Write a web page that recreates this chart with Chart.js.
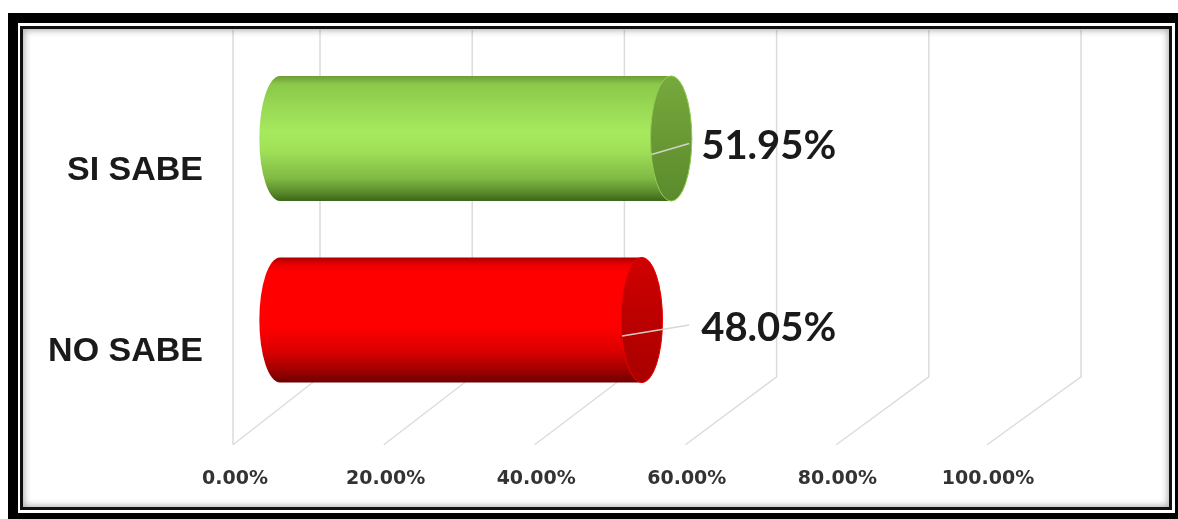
<!DOCTYPE html>
<html lang="es">
<head>
<meta charset="utf-8">
<title>SI SABE / NO SABE</title>
<script src="https://cdn.jsdelivr.net/npm/chart.js@4.4.1/dist/chart.umd.min.js"></script>
<style>
  html, body { margin: 0; padding: 0; background: #fff; overflow: hidden; }
  #wrap { position: absolute; left: 0; top: 0; width: 1178px; height: 519px; }
  .frame-outer { position: absolute; left: 8px; top: 13px; width: 1177px; height: 510px; border: 10px solid #000; box-sizing: border-box; }
  .frame-inner { position: absolute; left: 20px; top: 26px; width: 1152px; height: 484px; border: 3px solid #111; box-sizing: border-box; box-shadow: inset 0 0 7px 1px rgba(0,0,0,0.35); }
</style>
</head>
<body>
<div id="wrap"><canvas id="chart"></canvas></div>
<div class="frame-outer"></div>
<div class="frame-inner"></div>
<script>
const categories = ['SI SABE', 'NO SABE'];
const percentages = [51.95, 48.05];
const axisTicks = [0, 20, 40, 60, 80, 100];

// cylinder shading, top to bottom
const shades = [
    {
        body: [[0, '#6c9c36'], [0.07, '#8bc94a'], [0.45, '#a7e95e'], [0.6, '#9fe058'], [0.82, '#80b944'], [0.93, '#5a8a2c'], [1, '#3c6619']],
        face: ['#77a93d', '#5b8a2c'],
        rim: '#93cc55'
    },
    {
        body: [[0, '#a80000'], [0.06, '#ec0000'], [0.12, '#ff0000'], [0.55, '#ff0000'], [0.75, '#dc0000'], [0.9, '#a00000'], [1, '#6e0000']],
        face: ['#d00000', '#a80000'],
        rim: '#e80000'
    }
];

const fmt = v => Number(v).toFixed(2) + '%';

// back wall and floor lines of the 3D plot, drawn under the bars
const wallGrid = {
    id: 'wallGrid',
    beforeDatasetsDraw(chart) {
        const { ctx, chartArea, scales: { x } } = chart;
        const wallTop = 30;
        const floorBack = chartArea.bottom - 34;
        const floorFront = chartArea.bottom + 34;
        ctx.save();
        ctx.strokeStyle = '#dcdcdc';
        ctx.lineWidth = 1.5;
        ctx.beginPath();
        const front0 = x.getPixelForValue(0) - 47;
        ctx.moveTo(front0, wallTop);
        ctx.lineTo(front0, floorFront);
        axisTicks.forEach(v => {
            const p = x.getPixelForValue(v);
            const back = p + 40 + v * 0.08;
            const front = p - 47 + v * 0.01;
            ctx.moveTo(back, wallTop);
            ctx.lineTo(back, floorBack);
            ctx.lineTo(front, floorFront);
        });
        ctx.stroke();
        ctx.restore();
    }
};

// bars are drawn as shaded cylinders with a leader line to their value
const cylinders = {
    id: 'cylinders',
    afterDatasetsDraw(chart) {
        const { ctx, scales: { x } } = chart;
        const values = chart.data.datasets[0].data;
        const labelX = x.getPixelForValue(Math.max(...values)) + 30;
        chart.getDatasetMeta(0).data.forEach((bar, i) => {
            const { x: end, y, base, height } = bar.getProps(['x', 'y', 'base', 'height'], true);
            const ry = height / 2;
            const rx = height * 0.165;
            const top = y - ry, bottom = y + ry;
            const shade = shades[i];
            ctx.save();

            const g = ctx.createLinearGradient(0, top, 0, bottom);
            shade.body.forEach(([o, c]) => g.addColorStop(o, c));
            ctx.beginPath();
            ctx.moveTo(base, top);
            ctx.lineTo(end, top);
            ctx.ellipse(end, y, rx, ry, 0, -Math.PI / 2, Math.PI / 2);
            ctx.lineTo(base, bottom);
            ctx.ellipse(base, y, rx, ry, 0, Math.PI / 2, Math.PI * 1.5);
            ctx.closePath();
            ctx.fillStyle = g;
            ctx.fill();

            const fg = ctx.createLinearGradient(0, top, 0, bottom);
            fg.addColorStop(0, shade.face[0]);
            fg.addColorStop(1, shade.face[1]);
            ctx.beginPath();
            ctx.ellipse(end, y, rx, ry, 0, 0, Math.PI * 2);
            ctx.fillStyle = fg;
            ctx.fill();
            ctx.strokeStyle = shade.rim;
            ctx.lineWidth = 1;
            ctx.stroke();

            const ly = y + 8;
            ctx.beginPath();
            ctx.moveTo(end - rx + 1, y + 16);
            ctx.lineTo(labelX - 12, ly - 3);
            ctx.strokeStyle = 'rgba(215, 215, 205, 0.95)';
            ctx.lineWidth = 1.5;
            ctx.stroke();

            ctx.font = 'bold 40px Lato';
            ctx.fillStyle = '#1a1a1a';
            ctx.textBaseline = 'middle';
            ctx.fillText(fmt(values[i]), labelX, ly);
            ctx.restore();
        });
    }
};

// keep the plot area where it is: no extra room for edge labels
const noEdgePadding = s => {
    s.paddingTop = 0;
    s.paddingBottom = 0;
    s.paddingLeft = 0;
    s.paddingRight = 0;
};

new Chart(document.getElementById('chart'), {
    type: 'bar',
    data: {
        labels: categories,
        datasets: [{
            data: percentages,
            backgroundColor: 'rgba(0, 0, 0, 0)',
            borderWidth: 0,
            barPercentage: 0.69,
            categoryPercentage: 1
        }]
    },
    options: {
        indexAxis: 'y',
        responsive: true,
        maintainAspectRatio: false,
        animation: false,
        layout: { padding: { top: 47.75, right: 145, bottom: 0, left: 0 } },
        plugins: {
            legend: { display: false },
            tooltip: { enabled: false }
        },
        scales: {
            x: {
                min: 0,
                max: 100,
                grid: { display: false, drawTicks: false },
                border: { display: false },
                afterBuildTicks: s => { s.ticks = axisTicks.map(v => ({ value: v })); },
                afterFit: s => { s.height = 108.25; noEdgePadding(s); },
                ticks: {
                    callback: v => fmt(v),
                    labelOffset: -45,
                    padding: 57,
                    maxRotation: 0,
                    autoSkip: false,
                    color: '#333',
                    font: { family: 'DejaVu Sans', weight: 'bold', size: 19 }
                }
            },
            y: {
                grid: { display: false, drawTicks: false },
                border: { display: false },
                afterFit: s => { s.width = 280; noEdgePadding(s); },
                ticks: {
                    labelOffset: 32,
                    padding: 77,
                    color: '#1a1a1a',
                    font: { family: 'Liberation Sans', weight: 'bold', size: 34 }
                }
            }
        }
    },
    plugins: [wallGrid, cylinders]
});
</script>
</body>
</html>
